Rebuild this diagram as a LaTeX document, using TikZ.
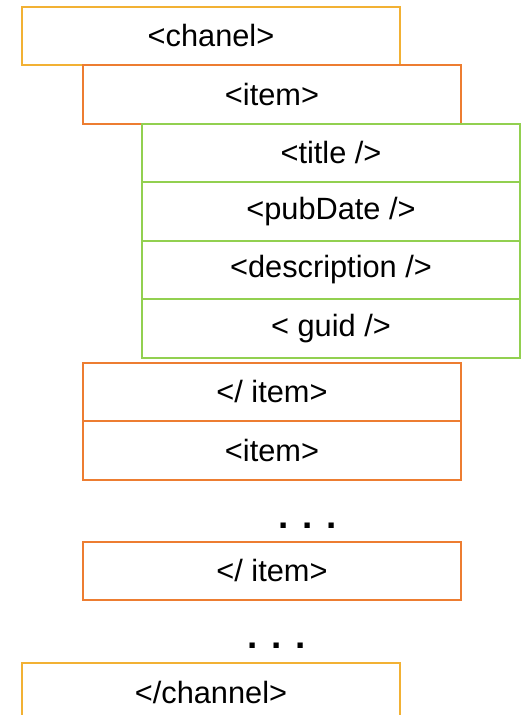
\documentclass[tikz,border=0pt]{standalone}
\usepackage{fontspec}
\setmainfont{Liberation Sans}
\usetikzlibrary{positioning}
\definecolor{TagGold}{HTML}{F2B134}
\definecolor{TagOrange}{HTML}{ED7D31}
\definecolor{TagGreen}{HTML}{92D050}

\begin{document}
\begin{tikzpicture}[
    node distance=0cm,
    tagbox/.style={rectangle, draw, line width=1pt, minimum width=7.56cm, minimum height=1.17cm,
                   inner sep=0pt, outer sep=0pt, text centered, font=\fontsize{17.5}{20}\selectfont},
    moredots/.style={font=\fontsize{21}{24}\selectfont\bfseries, inner sep=0pt}
]
    \useasboundingbox (0,0) rectangle (10.42,-14.30);
    \clip (0,0) rectangle (10.42,-14.30);
    \node[tagbox, draw=TagGold] (chanel) at (4.22,-0.72) {<chanel>};
    \node[tagbox, draw=TagOrange, below=0cm of chanel.south, xshift=1.22cm] (item) {<item>};
    \node[tagbox, draw=TagGreen, below=0cm of item.south, xshift=1.18cm] (title) {<title />};
    \node[tagbox, draw=TagGreen, below=0cm of title] (pubdate) {<pubDate />};
    \node[tagbox, draw=TagGreen, below=0cm of pubdate] (description) {<description />};
    \node[tagbox, draw=TagGreen, below=0cm of description] (guid) {< guid />};
    \node[tagbox, draw=TagOrange, below=0.1cm of guid.south, xshift=-1.18cm] (itemend) {</ item>};
    \node[tagbox, draw=TagOrange, below=0cm of itemend] (nextitem) {<item>};
    \node[moredots] (itemdots) at ([xshift=0.72cm, yshift=-0.92cm]nextitem.south) {. . .};
    \node[tagbox, draw=TagOrange, below=1.24cm of nextitem] (lastend) {</ item>};
    \node[moredots] (channeldots) at ([xshift=0.1cm, yshift=-0.9cm]lastend.south) {. . .};
    \node[tagbox, draw=TagGold, below=1.26cm of lastend.south, xshift=-1.22cm] (channelend) {</channel>};
\end{tikzpicture}
\end{document}
